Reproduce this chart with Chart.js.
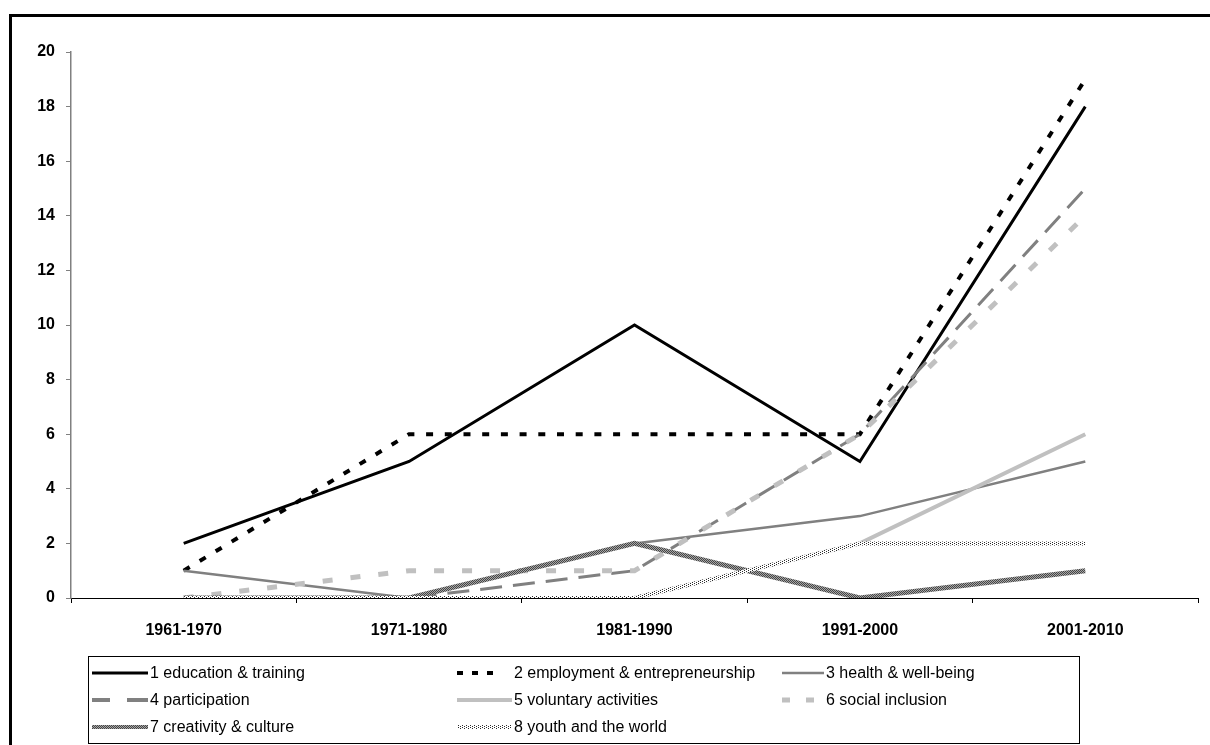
<!DOCTYPE html>
<html><head><meta charset="utf-8">
<script src="https://cdn.jsdelivr.net/npm/chart.js@4.4.0/dist/chart.umd.min.js"></script>
<style>html,body{margin:0;padding:0;background:#fff;}#wrap{position:relative;width:1210px;height:745px;}</style>
</head><body><div id="wrap"><canvas id="c" width="1210" height="745"></canvas></div>
<script>
const categories = ['1961-1970', '1971-1980', '1981-1990', '1991-2000', '2001-2010'];
const seriesNames = ['1 education & training', '2 employment & entrepreneurship', '3 health & well-being',
  '4 participation', '5 voluntary activities', '6 social inclusion', '7 creativity & culture', '8 youth and the world'];
const educationTraining = [2, 5, 10, 5, 18];
const employmentEntrepreneurship = [1, 6, 6, 6, 19];
const healthWellbeing = [1, 0, 2, 3, 5];
const participation = [0, 0, 1, 6, 15];
const voluntaryActivities = [0, 0, 0, 2, 6];
const socialInclusion = [0, 1, 1, 6, 14];
const creativityCulture = [0, 0, 2, 0, 1];
const youthWorld = [0, 0, 0, 2, 2];
const yTicks = [0, 2, 4, 6, 8, 10, 12, 14, 16, 18, 20];

const FONT = '"Liberation Sans", Arial, sans-serif';

function makePattern(w, h, bg, fg, pts) {
  const c = document.createElement('canvas');
  c.width = w; c.height = h;
  const g = c.getContext('2d');
  g.fillStyle = bg; g.fillRect(0, 0, w, h);
  g.fillStyle = fg;
  pts.forEach(p => g.fillRect(p[0], p[1], 1, 1));
  return g.createPattern(c, 'repeat');
}
const creativityPattern = makePattern(2, 2, '#a6a6a6', '#454545', [[0, 0], [1, 1]]);
const youthPattern = makePattern(4, 2, '#ffffff', '#2a2a2a', [[0, 0], [2, 1]]);

const seriesValues = [educationTraining, employmentEntrepreneurship, healthWellbeing, participation,
  voluntaryActivities, socialInclusion, creativityCulture, youthWorld];
const styles = [
  { borderColor: '#000000', borderWidth: 3, borderDash: [], legendDash: [], legendW: 3 },
  { borderColor: '#000000', borderWidth: 4, borderDash: [7, 11.7], legendDash: [6, 9, 6, 9, 6, 200], legendW: 4 },
  { borderColor: '#808080', borderWidth: 2.5, borderDash: [], legendDash: [], legendW: 2.5 },
  { borderColor: '#808080', borderWidth: 3, borderDash: [22, 11], legendDash: [18, 17, 22], legendW: 4 },
  { borderColor: '#c0c0c0', borderWidth: 4, borderDash: [], legendDash: [], legendW: 4 },
  { borderColor: '#c0c0c0', borderWidth: 5, borderDash: [10, 18], legendDash: [8, 16, 8, 200], legendW: 5 },
  { borderColor: creativityPattern, borderWidth: 5, borderDash: [], legendDash: [], legendW: 4 },
  { borderColor: youthPattern, borderWidth: 4, borderDash: [], legendDash: [], legendW: 4 }
];

const datasets = seriesValues.map((vals, i) => Object.assign({
  label: seriesNames[i],
  data: vals,
  fill: false,
  pointRadius: 0,
  tension: 0,
  order: seriesValues.length - i,
  borderCapStyle: 'butt',
  borderJoinStyle: 'miter'
}, styles[i]));

const decor = {
  id: 'decor',
  afterDraw(chart) {
    const ctx = chart.ctx;
    ctx.save();
    ctx.strokeStyle = '#000'; ctx.lineWidth = 3; ctx.setLineDash([]);
    ctx.beginPath(); ctx.moveTo(10.5, 745); ctx.lineTo(10.5, 15.5); ctx.lineTo(1210, 15.5); ctx.stroke();
    ctx.lineWidth = 1;
    ctx.strokeRect(88.5, 656.5, 991, 87);
    const colX = [150, 514, 826];
    const sampleStart = [92, 457, 782];
    const rowY = [673, 700, 727];
    chart.data.datasets.forEach((ds, i) => {
      const col = i % 3, row = Math.floor(i / 3);
      const tx = colX[col], y = rowY[row];
      ctx.save();
      ctx.strokeStyle = ds.borderColor;
      ctx.lineWidth = ds.legendW;
      ctx.setLineDash(ds.legendDash || []);
      ctx.lineCap = 'butt';
      ctx.beginPath(); ctx.moveTo(sampleStart[col], y); ctx.lineTo(tx - 2, y); ctx.stroke();
      ctx.restore();
      ctx.fillStyle = '#000';
      ctx.font = '16px ' + FONT;
      ctx.textBaseline = 'middle';
      ctx.textAlign = 'left';
      ctx.fillText(ds.label, tx, y + 1);
    });
    ctx.restore();
  }
};

new Chart(document.getElementById('c'), {
  type: 'line',
  data: { labels: categories, datasets: datasets },
  options: {
    responsive: false,
    animation: false,
    devicePixelRatio: 1,
    layout: { padding: { left: 10, top: 52, right: 12, bottom: 107 } },
    plugins: { legend: { display: false }, tooltip: { enabled: false } },
    scales: {
      x: {
        offset: true,
        grid: { offset: true, drawOnChartArea: false, drawTicks: true, tickLength: 5, color: '#000', lineWidth: 1 },
        border: { color: '#000', width: 1 },
        ticks: { color: '#000', font: { family: FONT, size: 16, weight: 'bold' }, padding: 18, maxRotation: 0, autoSkip: false },
        afterFit(s) { s.height = 40; }
      },
      y: {
        min: 0, max: 20,
        afterBuildTicks(s) { s.ticks = yTicks.map(v => ({ value: v })); },
        grid: { drawOnChartArea: false, drawTicks: true, tickLength: 5, color: '#808080', lineWidth: 1 },
        border: { color: '#808080', width: 1.5 },
        ticks: { color: '#000', font: { family: FONT, size: 16, weight: 'bold' }, padding: 11 },
        afterFit(s) { s.width = 61; }
      }
    }
  },
  plugins: [decor]
});
</script></body></html>
